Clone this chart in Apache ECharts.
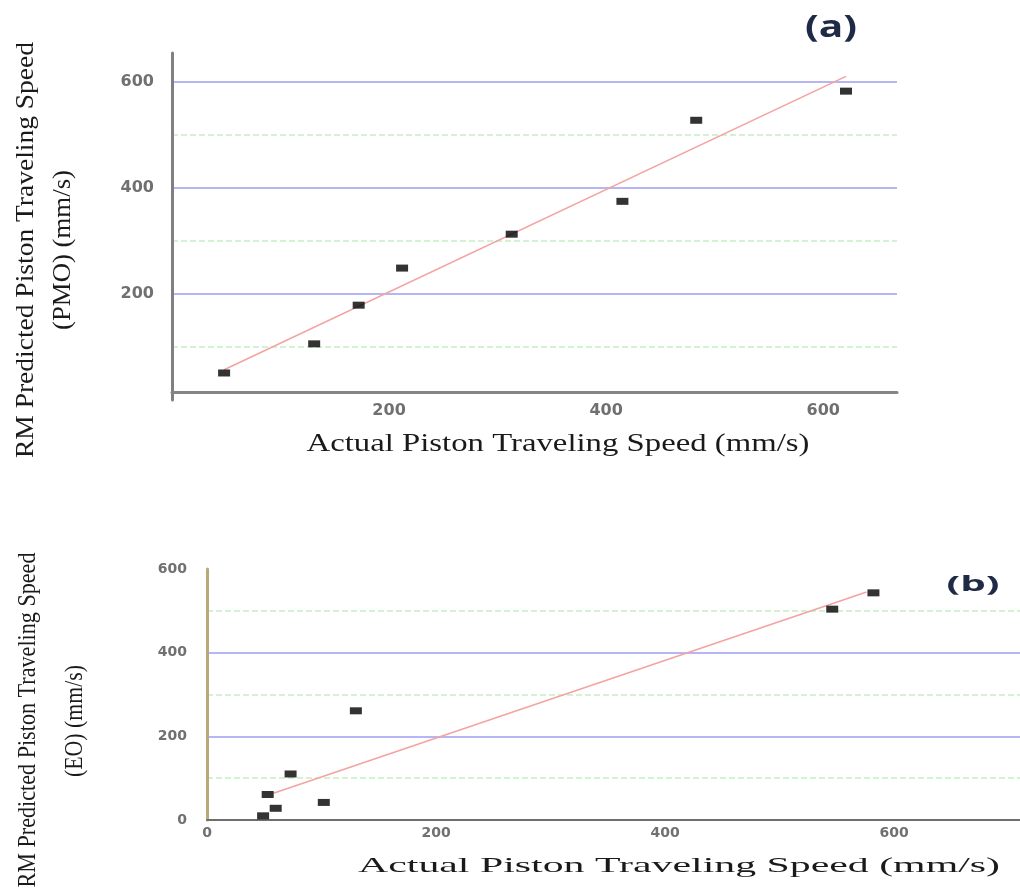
<!DOCTYPE html>
<html>
<head>
<meta charset="utf-8">
<title>RM predicted vs actual piston traveling speed</title>
<script src="https://cdn.jsdelivr.net/npm/echarts@6/dist/echarts.min.js"></script>
<style>
  html, body { margin: 0; padding: 0; background: #fff; }
  #chart { width: 1020px; height: 892px; }
</style>
</head>
<body>
<div id="chart"></div>
<script>
// (a) PMO model: actual vs predicted speed (mm/s)
const pmoActual = [48, 131, 172, 212, 313, 415, 483, 621];
const pmoPredicted = [51, 106, 179, 249, 313, 375, 528, 583];
const pmoFitX = [48, 621];
const pmoFitY = [57, 611];

// (b) EO model
const eoActual = [49, 60, 53, 73, 102, 130, 546, 582];
const eoPredicted = [10, 28, 61, 110, 42, 261, 504, 543];
const eoFitX = [58, 576];
const eoFitY = [64, 545];

// labelled ticks
const pmoTickLabels = [200, 400, 600];
const eoTickLabels = [0, 200, 400, 600];

const xTitle = 'Actual Piston Traveling Speed (mm/s)';
const yTitle = 'RM Predicted Piston Traveling Speed';

const zip = (xs, ys) => xs.map((x, i) => [x, ys[i]]);

// stretch a text so it spans the same width as in the picture
const measureCtx = document.createElement('canvas').getContext('2d');
function fitScale(text, font, width) {
  measureCtx.font = font;
  return width / measureCtx.measureText(text).width;
}

function label(text, x, y, width, opts) {
  const size = opts.size || 26;
  const family = opts.family || 'Liberation Serif';
  const weight = opts.weight || 'normal';
  const font = weight + ' ' + size + 'px "' + family + '"';
  return {
    type: 'text',
    x: x,
    y: y,
    rotation: opts.vertical ? Math.PI / 2 : 0,
    scaleX: fitScale(text, font, width),
    z: 10,
    style: {
      text: text,
      fontSize: size,
      fontFamily: family,
      fontWeight: weight,
      fill: opts.color || '#1a1a1a',
      align: 'center',
      verticalAlign: 'middle'
    }
  };
}

const tickFont = {
  fontFamily: 'DejaVu Sans',
  fontWeight: 'bold',
  color: '#707070'
};

function greenAxis(grid, max) {
  return {
    gridIndex: grid,
    type: 'value',
    position: 'left',
    min: 0,
    max: max,
    interval: 100,
    axisLine: { show: false },
    axisTick: { show: false },
    axisLabel: { show: false },
    splitLine: {
      show: true,
      showMinLine: false,
      showMaxLine: false,
      lineStyle: { color: '#c4eec4', width: 1.5, type: [6, 3] }
    }
  };
}

const chart = echarts.init(document.getElementById('chart'));

const option = {
  backgroundColor: '#fff',
  animation: false,
  grid: [
    { left: 172, right: 123, top: 53, bottom: 492, outerBoundsMode: 'none' },
    { left: 207, right: 0, top: 569, bottom: 72, outerBoundsMode: 'none' }
  ],
  xAxis: [
    {
      gridIndex: 0,
      type: 'value',
      min: 0,
      max: 668,
      interval: 200,
      offset: -8,
      axisLine: { onZero: false, lineStyle: { color: '#858585', width: 3 } },
      axisTick: { show: false },
      splitLine: { show: false },
      axisLabel: Object.assign({
        fontSize: 16,
        margin: 11,
        showMaxLabel: false,
        formatter: v => pmoTickLabels.includes(v) ? String(v) : ''
      }, tickFont)
    },
    {
      gridIndex: 1,
      type: 'value',
      min: 0,
      max: 710,
      interval: 200,
      axisLine: { onZero: false, lineStyle: { color: '#6e6e6e', width: 2 } },
      axisTick: { show: false },
      splitLine: { show: false },
      axisLabel: Object.assign({
        fontSize: 14,
        margin: 6,
        showMaxLabel: false,
        formatter: v => eoTickLabels.includes(v) ? String(v) : ''
      }, tickFont)
    }
  ],
  yAxis: [
    greenAxis(0, 655),
    {
      gridIndex: 0,
      type: 'value',
      position: 'left',
      min: 0,
      max: 655,
      interval: 200,
      axisLine: { show: true, onZero: false, lineStyle: { color: '#808080', width: 3 } },
      axisTick: { show: false },
      axisLabel: Object.assign({
        fontSize: 16,
        margin: 18,
        showMaxLabel: false,
        formatter: v => pmoTickLabels.includes(v) ? String(v) : ''
      }, tickFont),
      splitLine: {
        show: true,
        showMinLine: false,
        showMaxLine: false,
        lineStyle: { color: '#b6b6f7', width: 2 }
      }
    },
    greenAxis(1, 600),
    {
      gridIndex: 1,
      type: 'value',
      position: 'left',
      min: 0,
      max: 600,
      interval: 200,
      axisLine: { show: true, onZero: false, lineStyle: { color: '#b9a878', width: 3 } },
      axisTick: { show: false },
      axisLabel: Object.assign({
        fontSize: 14,
        margin: 20,
        formatter: v => eoTickLabels.includes(v) ? String(v) : ''
      }, tickFont),
      splitLine: {
        show: true,
        showMinLine: false,
        showMaxLine: false,
        lineStyle: { color: '#b6b6f7', width: 2 }
      }
    }
  ],
  series: [
    {
      name: 'PMO fit',
      type: 'line',
      xAxisIndex: 0,
      yAxisIndex: 1,
      data: zip(pmoFitX, pmoFitY),
      showSymbol: false,
      symbol: 'none',
      z: 2,
      lineStyle: { color: '#f4a2a2', width: 1.5 }
    },
    {
      name: 'PMO',
      type: 'scatter',
      xAxisIndex: 0,
      yAxisIndex: 1,
      data: zip(pmoActual, pmoPredicted),
      symbol: 'rect',
      symbolSize: [12, 7],
      z: 3,
      itemStyle: { color: '#000' }
    },
    {
      name: 'EO fit',
      type: 'line',
      xAxisIndex: 1,
      yAxisIndex: 3,
      data: zip(eoFitX, eoFitY),
      showSymbol: false,
      symbol: 'none',
      z: 2,
      lineStyle: { color: '#f4a2a2', width: 1.5 }
    },
    {
      name: 'EO',
      type: 'scatter',
      xAxisIndex: 1,
      yAxisIndex: 3,
      data: zip(eoActual, eoPredicted),
      symbol: 'rect',
      symbolSize: [12, 7],
      z: 3,
      itemStyle: { color: '#000' }
    }
  ],
  graphic: [
    label(xTitle, 558, 444, 503, {}),
    label(yTitle, 26, 250, 416, { vertical: true }),
    label('(PMO) (mm/s)', 63, 250, 160, { vertical: true }),
    label(xTitle, 679, 866, 642, { size: 22 }),
    label(yTitle, 28, 720, 335, { vertical: true }),
    label('(EO) (mm/s)', 75, 721, 112, { vertical: true }),
    label('(a)', 831, 28, 52, { size: 30, family: 'Open Sans', weight: 'bold', color: '#1f2b46' }),
    label('(b)', 973, 585, 53, { size: 22, family: 'Open Sans', weight: 'bold', color: '#1f2b46' })
  ]
};

chart.setOption(option);
</script>
</body>
</html>
